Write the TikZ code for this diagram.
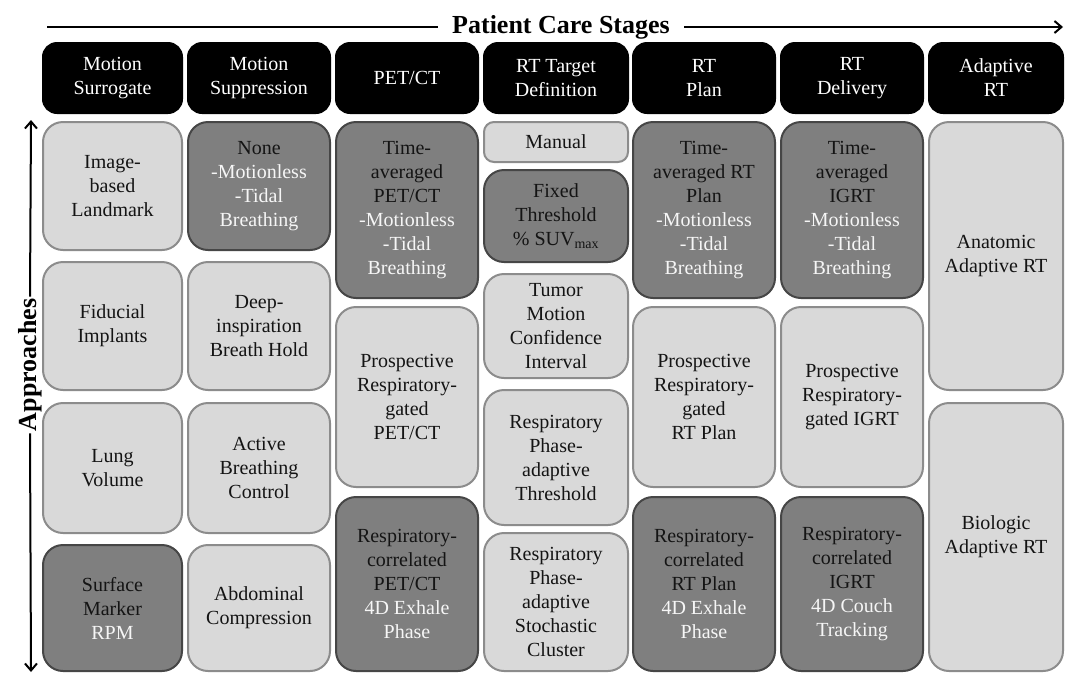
\documentclass[tikz,border=0pt]{standalone}
\usepackage{fontspec}
\setmainfont{Liberation Serif}
\usetikzlibrary{arrows.meta}
\definecolor{lightfill}{RGB}{217,217,217}
\definecolor{lightline}{RGB}{140,140,140}
\definecolor{darkfill}{RGB}{127,127,127}
\definecolor{darkline}{RGB}{70,70,70}
\definecolor{wtext}{RGB}{246,246,246}
\definecolor{btext}{RGB}{20,20,20}
\newcommand{\wl}[1]{\textcolor{wtext}{#1}}
\begin{document}
\begin{tikzpicture}[x=1pt,y=-1pt,
  box/.style={rectangle, rounded corners=20pt, line width=2pt, inner sep=0pt, align=center, font=\fontsize{20}{24}\selectfont},
  lbox/.style={box, fill=lightfill, draw=lightline, text=btext},
  dbox/.style={box, fill=darkfill, draw=darkline, text=btext},
  hbox/.style={box, fill=black, draw=black, text=white, rounded corners=14pt},
  axis/.style={line width=2pt},
  axarrow/.style={line width=2pt, -{Straight Barb[length=7pt,width=12pt]}},
  bigtext/.style={font=\bfseries\fontsize{26}{30}\selectfont}]
\useasboundingbox[fill=white] (0,0) rectangle (1065,673);

% headers
\node[hbox, minimum width=139, minimum height=70] (h1) at (112.5,78) {Motion\\Surrogate};
\node[hbox, minimum width=142, minimum height=70] (h2) at (259,78) {Motion\\Suppression};
\node[hbox, minimum width=142, minimum height=70] (h3) at (407,78) {PET/CT};
\node[hbox, minimum width=144, minimum height=70] (h4) at (556,78) {RT Target\\Definition};
\node[hbox, minimum width=142, minimum height=70] (h5) at (704,78) {RT\\Plan};
\node[hbox, minimum width=142, minimum height=70] (h6) at (852,78) {RT\\Delivery};
\node[hbox, minimum width=134, minimum height=70] (h7) at (996,78) {Adaptive\\RT};

% column 1
\node[lbox, minimum width=139, minimum height=128] (a1) at (112.5,186) {Image-\\based\\Landmark};
\node[lbox, minimum width=139, minimum height=128] (a2) at (112.5,326) {Fiducial\\Implants};
\node[lbox, minimum width=139, minimum height=130] (a3) at (112.5,468) {Lung\\Volume};
\node[dbox, minimum width=139, minimum height=126] (a4) at (112.5,608) {Surface\\Marker\\\wl{RPM}};

% column 2
\node[dbox, minimum width=142, minimum height=128] (b1) at (259,186) {None\\\wl{-Motionless}\\\wl{-Tidal}\\\wl{Breathing}};
\node[lbox, minimum width=142, minimum height=128] (b2) at (259,326) {Deep-\\inspiration\\Breath Hold};
\node[lbox, minimum width=142, minimum height=130] (b3) at (259,468) {Active\\Breathing\\Control};
\node[lbox, minimum width=142, minimum height=126] (b4) at (259,608) {Abdominal\\Compression};

% column 3
\node[dbox, minimum width=142, minimum height=176] (c1) at (407,210) {Time-\\averaged\\PET/CT\\\wl{-Motionless}\\\wl{-Tidal}\\\wl{Breathing}};
\node[lbox, minimum width=142, minimum height=180] (c2) at (407,397) {Prospective\\Respiratory-\\gated\\PET/CT};
\node[dbox, minimum width=142, minimum height=174] (c3) at (407,584) {Respiratory-\\correlated\\PET/CT\\\wl{4D Exhale}\\\wl{Phase}};

% column 4
\node[lbox, rounded corners=10pt, minimum width=144, minimum height=40] (d1) at (556,142) {Manual};
\node[dbox, minimum width=144, minimum height=92] (d2) at (556,216) {Fixed\\Threshold\\\% SUV\textsubscript{max}};
\node[lbox, minimum width=144, minimum height=104] (d3) at (556,326) {Tumor\\Motion\\Confidence\\Interval};
\node[lbox, minimum width=144, minimum height=135] (d4) at (556,457.5) {Respiratory\\Phase-\\adaptive\\Threshold};
\node[lbox, minimum width=144, minimum height=138] (d5) at (556,602) {Respiratory\\Phase-\\adaptive\\Stochastic\\Cluster};

% column 5
\node[dbox, minimum width=142, minimum height=176] (e1) at (704,210) {Time-\\averaged RT\\Plan\\\wl{-Motionless}\\\wl{-Tidal}\\\wl{Breathing}};
\node[lbox, minimum width=142, minimum height=180] (e2) at (704,397) {Prospective\\Respiratory-\\gated\\RT Plan};
\node[dbox, minimum width=142, minimum height=174] (e3) at (704,584) {Respiratory-\\correlated\\RT Plan\\\wl{4D Exhale}\\\wl{Phase}};

% column 6
\node[dbox, minimum width=142, minimum height=176] (f1) at (852,210) {Time-\\averaged\\IGRT\\\wl{-Motionless}\\\wl{-Tidal}\\\wl{Breathing}};
\node[lbox, minimum width=142, minimum height=180] (f2) at (852,397) {Prospective\\Respiratory-\\gated IGRT};
\node[dbox, minimum width=142, minimum height=174] (f3) at (852,584) {Respiratory-\\correlated\\IGRT\\\wl{4D Couch}\\\wl{Tracking}};

% column 7
\node[lbox, minimum width=134, minimum height=268] (g1) at (996,256) {Anatomic\\Adaptive RT};
\node[lbox, minimum width=134, minimum height=268] (g2) at (996,537) {Biologic\\Adaptive RT};

% title axis
\node[bigtext, inner xsep=14pt, inner ysep=0pt] (title) at (561,27) {Patient Care Stages};
\coordinate (tl) at (47,27);
\coordinate (tr) at (1063,27);
\draw[axis] (tl) -- (title.west);
\draw[axarrow] (title.east) -- (tr);

% approaches axis
\node[bigtext, rotate=90, inner xsep=2pt, inner ysep=0pt] (app) at (30,365) {Approaches};
\coordinate (at) at (31,120);
\coordinate (ab) at (31,672);
\draw[axarrow] (app.east) -- (at);
\draw[axarrow] (app.west) -- (ab);
\end{tikzpicture}
\end{document}
